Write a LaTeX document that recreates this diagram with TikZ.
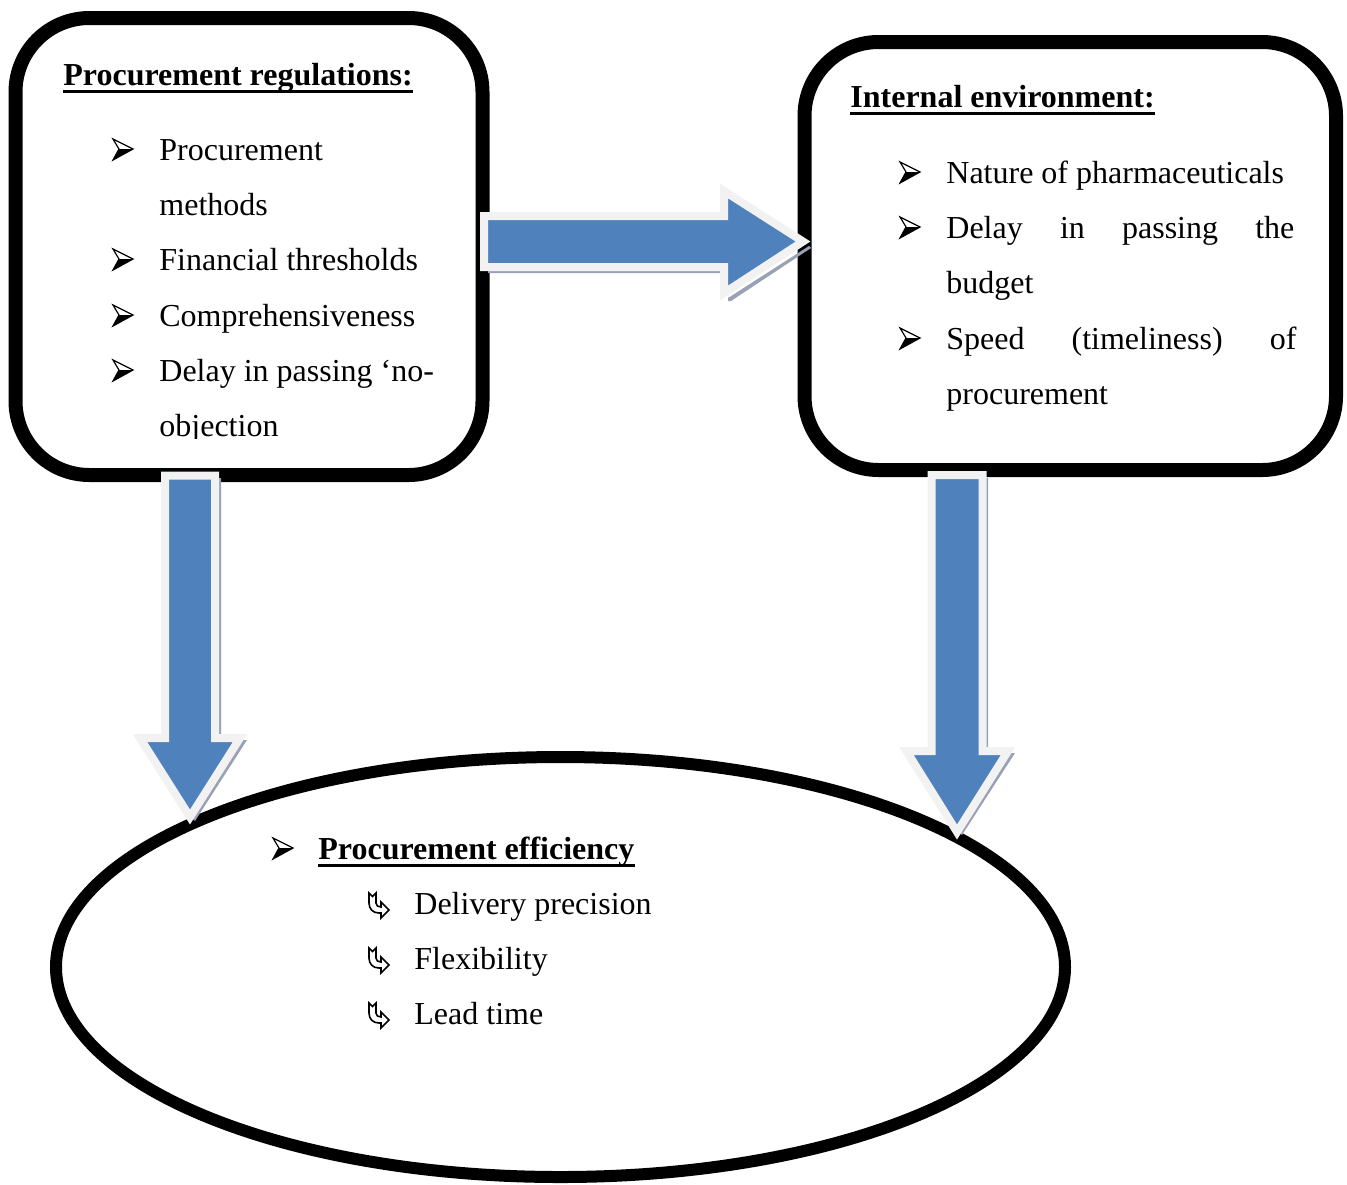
\documentclass[tikz,border=0pt]{standalone}
\usepackage{fontspec}
\setmainfont{Liberation Serif}
\usetikzlibrary{shapes.geometric}
\definecolor{arrblue}{HTML}{4F81BD}
\definecolor{arrrim}{HTML}{F2F2F2}
\definecolor{arrshadow}{HTML}{98A2B4}
\begin{document}
\begin{tikzpicture}[x=0.5pt,y=-0.5pt,
  box/.style={draw=black, line width=7pt, rounded corners=37pt, inner sep=0pt},
  txt/.style={anchor=base west, inner sep=0pt, font=\fontsize{16}{20}\selectfont},
  ttl/.style={anchor=base west, inner sep=0pt, font=\fontsize{16}{20}\selectfont\bfseries},
  ulline/.style={line width=1.4pt},
  barrow/.style={fill=arrblue, draw=arrrim, line width=4pt, line join=miter},
  bshadow/.style={fill=arrshadow},
  arrbul/.pic={
     \fill[black] (6,10) -- (20,10) -- (0,21) -- cycle;
     \draw[line width=0.6pt, line join=miter] (0,0) -- (20,10) -- (0,21) -- (6,10) -- cycle;
     \draw[line width=0.4pt] (6,10) -- (20,10);},
  hook/.pic={\draw[line width=0.8pt, line join=miter]
     (1,0) -- (4.5,3.5) -- (8,0) -- (8,10) .. controls (8,12.5) and (10,14) .. (13,14)
     -- (13,9) -- (21,17) -- (13,25) -- (13,20) -- (11,20)
     .. controls (5,20) and (1,16) .. (1,10) -- cycle;}
]
\useasboundingbox (0,0) rectangle (1347,1184);

% boxes
\node[box, minimum width=233.5pt, minimum height=228.5pt] (reg) at (249,246.5) {};
\node[box, minimum width=265.75pt, minimum height=214pt] (env) at (1070.25,256) {};
\node[draw=black, ellipse, line width=6pt, minimum width=504.5pt, minimum height=210pt, inner sep=0pt] (eff) at (560.5,967) {};

% left box text
\node[ttl] (regT) at (63,85) {Procurement regulations:};
\draw[ulline] ([yshift=-3.2pt]regT.base west) -- ([yshift=-3.2pt]regT.base east);
\pic at (113,139) {arrbul};
\node[txt] (r1) at (159,160) {Procurement};
\node[txt] (r1b) at (159,215) {methods};
\pic at (113,249) {arrbul};
\node[txt] (r2) at (159,270) {Financial thresholds};
\pic at (113,305) {arrbul};
\node[txt] (r3) at (159,326) {Comprehensiveness};
\pic at (113,360) {arrbul};
\node[txt] (r4) at (159,381) {Delay in passing ‘no-};
\begin{scope}
  \clip (150,395) rectangle (300,438);
  \node[txt] (r4b) at (159,436) {objection};
\end{scope}

% right box text
\node[ttl] (envT) at (850,107) {Internal environment:};
\draw[ulline] ([yshift=-3.2pt]envT.base west) -- ([yshift=-3.2pt]envT.base east);
\pic at (900,162) {arrbul};
\node[txt] (e1) at (946,183) {Nature of pharmaceuticals};
\pic at (900,217) {arrbul};
\node[txt] (e2) at (946,238) {\makebox[174pt][s]{Delay\hfill in\hfill passing\hfill the}};
\node[txt] (e2b) at (946,293) {budget};
\pic at (900,328) {arrbul};
\node[txt] (e3) at (946,349) {\makebox[175pt][s]{Speed\hfill (timeliness)\hfill of}};
\node[txt] (e3b) at (946,404) {procurement};

% ellipse text
\pic at (273,838) {arrbul};
\node[ttl] (effT) at (318,859) {Procurement efficiency};
\draw[ulline] ([yshift=-3.2pt]effT.base west) -- ([yshift=-3.2pt]effT.base east);
\pic at (368,893) {hook};
\node[txt] (f1) at (414,914) {Delivery precision};
\pic at (368,948) {hook};
\node[txt] (f2) at (414,969) {Flexibility};
\pic at (368,1003) {hook};
\node[txt] (f3) at (414,1024) {Lead time};

% block arrows: regulations -> environment
\fill[bshadow] (488,270) -- (728,270) -- (728,298) -- (809,246) -- (811,248) -- (731,301) -- (728,301) -- (728,273) -- (488,273) -- cycle;
\path[barrow] (484,216) -- (724,216) -- (724,191) -- (803,241.5) -- (724,293) -- (724,267) -- (484,267) -- cycle;

% regulations -> efficiency
\fill[bshadow] (218,478) -- (221,478) -- (221,740) -- (247,740) -- (195,821) -- (192,818) -- (241,742) -- (218,742) -- cycle;
\path[barrow] (165,475.5) -- (215,475.5) -- (215,738) -- (240,738) -- (190,817) -- (140,738) -- (165,738) -- cycle;

% environment -> efficiency
\fill[bshadow] (985,478) -- (988,478) -- (988,753) -- (1015,753) -- (962,835) -- (959,832) -- (1009,755) -- (985,755) -- cycle;
\path[barrow] (931.5,475) -- (982.5,475) -- (982.5,751) -- (1008,751) -- (957,832) -- (906.5,751) -- (931.5,751) -- cycle;
\end{tikzpicture}
\end{document}
